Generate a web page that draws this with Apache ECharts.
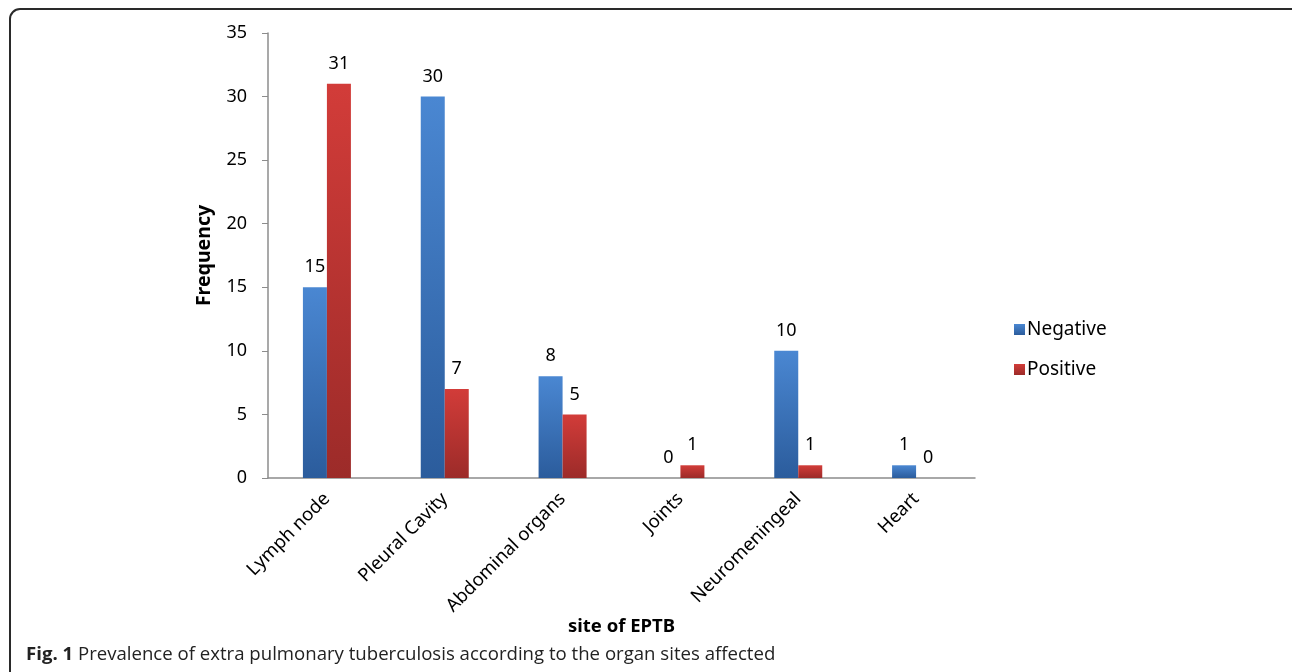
<!DOCTYPE html>
<html><head><meta charset="utf-8">
<script src="https://cdn.jsdelivr.net/npm/echarts@6/dist/echarts.min.js"></script>
<style>html,body{margin:0;padding:0;background:#fff}#c{width:1292px;height:672px}</style>
</head><body><div id="c"></div>
<script>
const categories = ['Lymph node', 'Pleural Cavity', 'Abdominal organs', 'Joints', 'Neuromeningeal', 'Heart'];
const negative = [15, 30, 8, 0, 10, 1];
const positive = [31, 7, 5, 1, 1, 0];
const yTicks = { min: 0, max: 35, interval: 5 };

const font = '"Noto Sans", "Open Sans", sans-serif';
function grad(top, bottom) {
  return new echarts.graphic.LinearGradient(0, 0, 0, 1, [
    { offset: 0, color: top }, { offset: 1, color: bottom }
  ]);
}
const chart = echarts.init(document.getElementById('c'));
chart.setOption({
  animation: false,
  textStyle: { fontFamily: font },
  grid: { left: 268, right: 317, top: 33, bottom: 194 },
  legend: {
    orient: 'vertical', left: 1009, top: 315, itemGap: 21,
    itemWidth: 11, itemHeight: 11, icon: 'rect',
    textStyle: { fontSize: 19, color: '#000', fontFamily: font, padding: [0, 0, 0, -3] },
    data: ['Negative', 'Positive']
  },
  xAxis: {
    type: 'category', data: categories,
    name: 'site of EPTB', nameLocation: 'middle', nameGap: 139, nameMoveOverlap: false,
    nameTextStyle: { fontSize: 18.5, fontWeight: 'bold', color: '#000' },
    axisLine: { lineStyle: { color: '#8c8c8c', width: 1.5 } },
    axisTick: { show: false },
    axisLabel: { rotate: 45, fontSize: 18.5, color: '#000', margin: 18, interval: 0 }
  },
  yAxis: {
    type: 'value', min: yTicks.min, max: yTicks.max, interval: yTicks.interval,
    name: 'Frequency', nameLocation: 'middle', nameGap: 54,
    nameTextStyle: { fontSize: 19.5, fontWeight: 'bold', color: '#000' },
    axisLine: { show: true, lineStyle: { color: '#8c8c8c', width: 1.5 } },
    axisTick: { show: true, length: 6, lineStyle: { color: '#8c8c8c' } },
    splitLine: { show: false },
    axisLabel: { fontSize: 18, color: '#000', margin: 21 }
  },
  series: [
    {
      name: 'Negative', type: 'bar', data: negative, barWidth: 24, barGap: '0%',
      itemStyle: { color: grad('#4a87d2', '#2b5c9c') },
      label: { show: true, position: 'top', fontSize: 18, color: '#000', distance: 11 }
    },
    {
      name: 'Positive', type: 'bar', data: positive, barWidth: 24,
      itemStyle: { color: grad('#d23c39', '#9c2b29') },
      label: { show: true, position: 'top', fontSize: 18, color: '#000', distance: 11 }
    }
  ],
  graphic: [
    { type: 'rect', shape: { x: 10, y: 9, width: 1300, height: 690, r: 10 },
      style: { fill: 'none', stroke: '#2a2a2a', lineWidth: 2 }, silent: true },
    { type: 'text', left: 26, top: 645,
      style: { text: '{b|Fig. 1} Prevalence of extra pulmonary tuberculosis according to the organ sites affected',
        rich: { b: { fontWeight: 'bold', fontSize: 18.6, fontFamily: '"Open Sans", sans-serif', fill: '#222' } },
        fontSize: 18.6, fontFamily: '"Open Sans", sans-serif', fill: '#222' } }
  ]
});
</script></body></html>
